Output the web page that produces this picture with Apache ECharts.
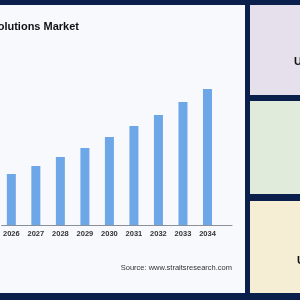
<!DOCTYPE html>
<html>
<head>
<meta charset="utf-8">
<script src="https://cdn.jsdelivr.net/npm/echarts@6/dist/echarts.min.js"></script>
<style>
html,body{margin:0;padding:0;background:#0b1f4d;}
#c{width:300px;height:300px;}
</style>
</head>
<body>
<div id="c"></div>
<script>
var years = [2026, 2027, 2028, 2029, 2030, 2031, 2032, 2033, 2034];
var values = [5.1, 5.9, 6.8, 7.7, 8.8, 9.9, 11.0, 12.3, 13.6];
var titleText = "Solutions Market";
var sourceText = "Source: www.straitsresearch.com";
var cardTexts = ["USD", "", "USD"];

var chart = echarts.init(document.getElementById('c'), null, {renderer: 'canvas'});
chart.setOption({
  backgroundColor: '#0b1f4d',
  animation: false,
  grid: {left: 0, right: 68, top: 75, bottom: 75, containLabel: false},
  xAxis: {
    type: 'value', min: 2025.6, max: 2035.0,
    splitLine: {show: false},
    axisLine: {show: true, lineStyle: {color: '#8a8f99', width: 1}},
    axisTick: {show: false},
    axisLabel: {
      customValues: years, color: '#333', fontSize: 7.5, fontWeight: 'bold',
      fontFamily: 'Liberation Sans', margin: 5,
      formatter: function (v) { return String(v); }
    }
  },
  yAxis: {type: 'value', min: 0, max: 15, show: false},
  series: [{
    type: 'bar', barWidth: 9,
    itemStyle: {color: '#6da7e7'},
    data: years.map(function (y, i) { return [y, values[i]]; })
  }],
  graphic: [
    {type: 'rect', z: -10, shape: {x: -10, y: 5, width: 255, height: 288}, style: {fill: '#f7f9fd'}},
    {type: 'rect', z: -10, shape: {x: 250, y: 5, width: 60, height: 90}, style: {fill: '#e5e0ec'}},
    {type: 'rect', z: -10, shape: {x: 250, y: 101, width: 60, height: 93}, style: {fill: '#e0ebdc'}},
    {type: 'rect', z: -10, shape: {x: 250, y: 201, width: 60, height: 92}, style: {fill: '#f5eed5'}},
    {type: 'text', z: 5, x: 79, y: 27, style: {text: titleText, textAlign: 'right', textVerticalAlign: 'middle', fill: '#111', font: 'bold 11px "Liberation Sans"'}},
    {type: 'text', z: 5, x: 232, y: 268, style: {text: sourceText, textAlign: 'right', textVerticalAlign: 'middle', fill: '#333', font: '7.5px "Liberation Sans"'}},
    {type: 'text', z: 5, x: 294, y: 62, style: {text: cardTexts[0], textAlign: 'left', textVerticalAlign: 'middle', fill: '#111', font: 'bold 11px "Liberation Sans"'}},
    {type: 'text', z: 5, x: 297, y: 261, style: {text: cardTexts[2], textAlign: 'left', textVerticalAlign: 'middle', fill: '#111', font: 'bold 11px "Liberation Sans"'}}
  ]
});
</script>
</body>
</html>
